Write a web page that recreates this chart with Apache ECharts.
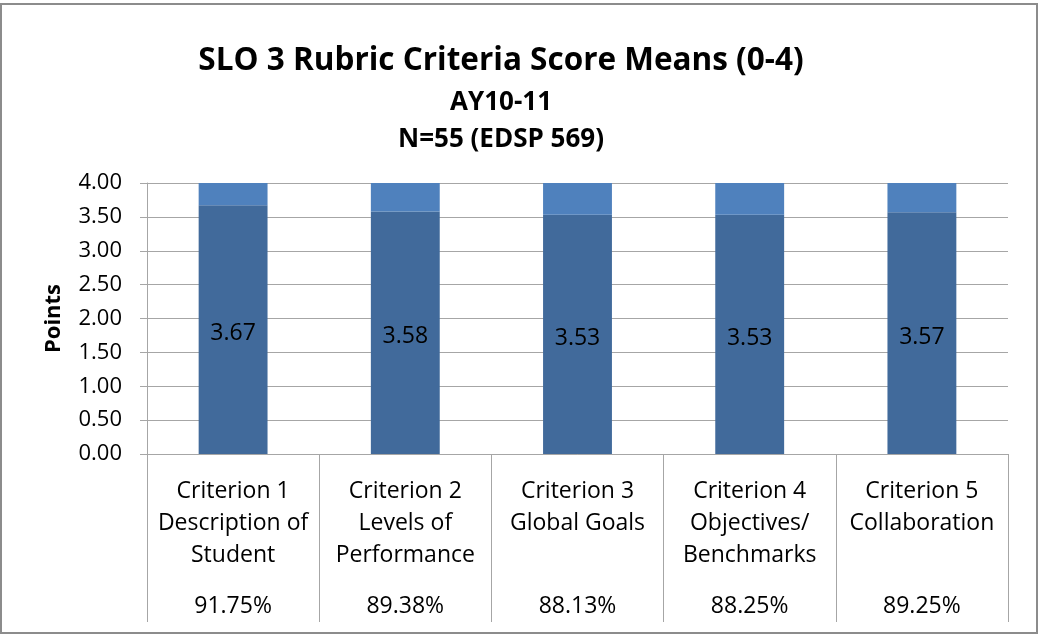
<!DOCTYPE html>
<html>
<head>
<meta charset="utf-8">
<script src="https://cdn.jsdelivr.net/npm/echarts@6/dist/echarts.min.js"></script>
<style>html,body{margin:0;padding:0;background:#fff;}#c{width:1039px;height:635px;}</style>
</head>
<body>
<div id="c"></div>
<script>
const categories = [
  "Criterion 1\nDescription of\nStudent",
  "Criterion 2\nLevels of\nPerformance",
  "Criterion 3\nGlobal Goals\n",
  "Criterion 4\nObjectives/\nBenchmarks",
  "Criterion 5\nCollaboration\n"
];
const means = [3.67, 3.58, 3.53, 3.53, 3.57];
const percents = ["91.75%", "89.38%", "88.13%", "88.25%", "89.25%"];
const maxScore = 4;
const remainder = means.map(v => +(maxScore - v).toFixed(2));
const yTicks = [0, 0.5, 1, 1.5, 2, 2.5, 3, 3.5, 4];

const font = "Open Sans";
const chart = echarts.init(document.getElementById('c'), null, {renderer: 'canvas'});
chart.setOption({
  animation: false,
  backgroundColor: '#fff',
  textStyle: {fontFamily: font},
  title: [
    {text: 'SLO 3 Rubric Criteria Score Means (0-4)', left: 496, top: 37, textAlign: 'center',
     textStyle: {fontFamily: font, fontSize: 31.5, lineHeight: 38, fontWeight: 'bold', color: '#000'}},
    {text: 'AY10-11', left: 496, top: 82, textAlign: 'center',
     textStyle: {fontFamily: font, fontSize: 26, lineHeight: 32, fontWeight: 'bold', color: '#000'}},
    {text: 'N=55 (EDSP 569)', left: 496, top: 119, textAlign: 'center',
     textStyle: {fontFamily: font, fontSize: 26, lineHeight: 32, fontWeight: 'bold', color: '#000'}}
  ],
  graphic: [{
    type: 'rect', shape: {x: 1, y: 4, width: 1036, height: 629},
    style: {fill: 'none', stroke: '#8c8c8c', lineWidth: 2}, silent: true
  }],
  grid: {left: 147, right: 31, top: 183, bottom: 181, containLabel: false, outerBoundsMode: 'none'},
  xAxis: {
    type: 'category', data: categories,
    axisLine: {show: true, lineStyle: {color: '#a6a6a6', width: 1}},
    axisTick: {show: true, length: 168, lineStyle: {color: '#a6a6a6'}},
    axisLabel: {
      interval: 0, hideOverlap: false,
      margin: 21, color: '#000', fontSize: 23, lineHeight: 32, fontFamily: font,
      formatter: (v, i) => v.split('\n').map(l => '{a|' + (l || '\u00a0') + '}').join('\n') +
        '\n{p|' + percents[i] + '}',
      rich: {
        a: {fontSize: 23, lineHeight: 32, color: '#000', fontFamily: font},
        p: {fontSize: 23, lineHeight: 70, color: '#000', fontFamily: font}
      }
    }
  },
  yAxis: {
    type: 'value', min: 0, max: 4, interval: 0.5,
    name: 'Points', nameLocation: 'middle', nameGap: 82, nameRotate: 90,
    nameTextStyle: {fontFamily: font, fontSize: 22, fontWeight: 'bold', color: '#000'},
    axisLine: {show: true, lineStyle: {color: '#a6a6a6'}},
    axisTick: {show: true, length: 7, lineStyle: {color: '#a6a6a6'}},
    splitLine: {lineStyle: {color: '#a6a6a6'}},
    axisLabel: {margin: 25, color: '#000', fontSize: 22, fontFamily: font,
      formatter: v => v.toFixed(2)}
  },
  series: [
    {type: 'bar', stack: 's', data: means, barWidth: '40%',
     itemStyle: {color: '#416a9b'},
     label: {show: true, position: 'inside', offset: [0, 4], color: '#000', fontSize: 23, fontFamily: font,
       formatter: p => p.value.toFixed(2)}},
    {type: 'bar', stack: 's', data: remainder, barWidth: '40%',
     itemStyle: {color: '#4f81bd'}}
  ]
});
</script>
</body>
</html>
